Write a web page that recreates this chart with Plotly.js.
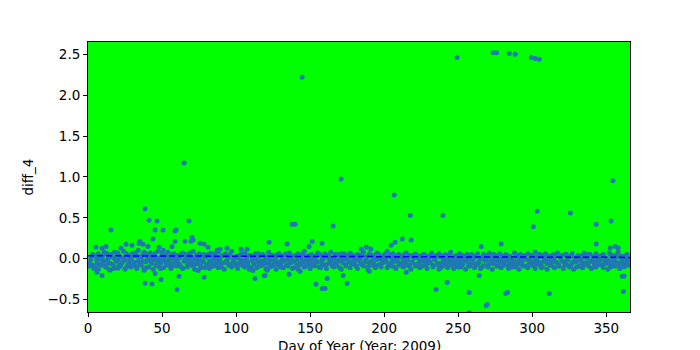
<!DOCTYPE html>
<html>
<head>
<meta charset="utf-8">
<script src="https://cdn.plot.ly/plotly-3.0.1.min.js"></script>
<style>html,body{margin:0;padding:0;background:#fff;}#chart{width:700px;height:350px;}</style>
</head>
<body>
<div id="chart"></div>
<script>
// Day-of-year band values (two readings per day, days 1..365)
const bandA = [
-.05,.02,-.08,.04,-.11,-.02,.06,-.07,.01,-.04,.08,-.09,-.01,.03,-.06,.05,-.12,.00,-.03,.07,
-.08,.02,-.05,.09,-.02,-.10,.04,-.06,.01,.06,-.04,-.09,.03,.10,-.07,.02,-.03,.08,-.11,.05,
-.02,.07,-.06,.00,.04,-.08,.09,-.03,-.12,.05,-.01,.03,-.07,.08,-.04,.01,-.09,.06,-.02,.04,
-.06,.02,-.10,.07,-.03,.05,-.08,.00,.03,-.05,.09,-.07,.01,-.02,.06,-.11,.04,-.04,.02,-.08,
.05,-.03,.07,-.09,.00,.03,-.06,.08,-.01,-.10,.04,-.05,.06,-.02,.02,-.07,.09,-.04,.01,-.08,
.03,-.06,.05,-.02,-.09,.07,.00,-.04,.04,-.11,.02,-.07,.06,-.01,-.05,.03,-.08,.05,-.03,.01,
-.06,.08,-.02,-.09,.04,-.04,.02,-.07,.06,-.10,.01,-.03,.05,-.08,.00,.07,-.05,.03,-.11,.04,
-.02,.06,-.07,.01,-.04,.09,-.09,.03,-.01,-.06,.05,-.08,.02,-.03,.07,-.10,.04,-.05,.00,.06,
-.07,.03,-.02,.08,-.09,.01,-.05,.05,-.03,-.11,.06,-.01,.02,-.08,.04,-.04,.07,-.06,.00,.03,
-.09,.05,-.02,.01,-.07,.08,-.04,.02,-.10,.06,-.03,.04,-.06,.00,.07,-.08,.03,-.01,-.05,.05,
-.02,.09,-.07,.02,-.04,.06,-.10,.01,-.03,.05,-.08,.03,.00,-.06,.07,-.02,-.09,.04,-.05,.02,
.06,-.07,.01,-.03,.04,-.09,.05,-.01,-.06,.03,-.04,.07,-.08,.00,.02,-.05,.06,-.11,.03,-.02,
.05,-.06,.01,-.03,.08,-.08,.02,-.04,.04,-.10,.06,-.01,-.07,.03,-.02,.05,-.09,.00,.04,-.05,
.02,-.07,.06,-.03,.01,-.10,.05,-.02,.03,-.08,.07,-.04,.00,-.06,.04,-.01,-.09,.06,-.03,.02,
-.06,.05,-.02,-.08,.03,.00,-.05,.07,-.10,.02,-.03,.05,-.07,.01,.04,-.09,.06,-.02,-.04,.03,
-.07,.08,-.01,-.05,.02,-.11,.04,-.03,.06,-.06,.00,.03,-.08,.05,-.02,-.04,.07,-.09,.01,.04,
-.03,-.07,.05,-.01,.02,-.08,.06,-.04,.00,-.10,.04,-.02,.03,-.06,.07,-.05,.01,-.09,.05,-.03,
.02,-.07,.06,-.01,-.04,.03,-.08,.05,-.02,.00,-.06,.07,-.10,.02,-.03,.04,-.05,.08,-.07,.01,
-.04,.03,-.08,.05,-.02
];
const bandB = [
-.09,-.01,.05,-.12,.03,-.06,-.13,.00,-.08,.04,-.03,-.10,.06,-.05,-.14,.02,-.07,.08,-.11,-.02,
.04,-.09,-.04,.01,-.13,.06,-.07,-.01,-.10,.03,-.06,.07,-.12,-.03,.02,-.08,.05,-.14,-.04,.00,
-.10,.03,-.05,-.13,.06,-.02,-.09,.01,-.06,.08,-.11,-.03,.04,-.08,-.01,-.12,.05,-.05,.02,-.09,
.00,-.07,.06,-.12,-.02,.03,-.10,-.05,.07,-.08,-.01,-.13,.04,-.06,.01,-.09,-.03,.05,-.11,.02,
-.07,-.12,.03,-.04,-.09,.06,-.02,-.11,.01,-.06,.04,-.13,-.03,.02,-.08,.05,-.10,-.01,-.05,.03,
-.12,.00,-.07,.05,-.04,-.10,.02,-.08,-.13,.04,-.02,-.06,.01,-.11,.06,-.09,-.03,-.07,.03,-.12,
.02,-.05,-.10,.04,-.08,-.01,-.13,.05,-.04,-.07,.03,-.11,-.02,.06,-.09,-.05,.01,-.12,-.03,.04,
-.08,-.13,.02,-.05,.05,-.10,-.02,-.07,.04,-.12,.00,-.06,-.09,.03,-.04,.06,-.11,-.01,-.08,.02,
-.12,.04,-.06,-.03,.01,-.10,.05,-.08,-.02,.03,-.13,-.05,.06,-.09,-.01,.02,-.11,-.04,.04,-.07,
-.02,-.12,.03,-.06,.05,-.09,-.03,.01,-.13,-.05,.04,-.08,.02,-.11,-.01,.06,-.07,-.10,.00,-.04,
.03,-.11,-.06,.05,-.09,.01,-.03,-.12,.04,-.07,.02,-.05,-.10,.06,-.02,-.08,.03,-.13,-.04,.01,
-.09,.04,-.06,-.11,.02,-.03,.05,-.08,-.12,.00,-.05,.03,-.10,-.01,.04,-.07,-.13,.02,-.06,-.09,
.01,-.04,-.11,.05,-.07,-.02,-.12,.03,-.08,.00,-.05,-.10,.04,-.03,-.13,.02,-.06,-.09,.05,-.01,
-.11,.03,-.07,-.04,-.12,.01,-.08,.04,-.02,-.10,.02,-.06,-.13,.05,-.03,-.09,.00,-.05,-.11,.03,
-.08,-.02,.04,-.12,-.06,.01,-.10,-.03,.05,-.07,-.13,.02,-.04,-.09,.03,-.01,-.11,-.06,.04,-.08,
-.03,-.12,.02,-.07,.05,-.05,-.10,.01,-.02,-.13,.03,-.08,-.04,.00,-.11,.04,-.06,-.09,.02,-.03,
-.12,.05,-.07,-.02,-.10,.03,-.05,-.13,.01,-.04,.04,-.09,-.01,-.11,.02,-.06,-.08,.05,-.03,-.12,
.00,-.05,-.10,.03,-.07,-.02,.04,-.11,-.06,.01,-.13,-.03,.05,-.08,-.01,-.09,.02,-.05,-.12,.03,
-.06,-.10,.01,-.04,-.08
];
const bandDays = bandA.map((_, i) => i + 1);

// Scattered readings away from the band
const extraDays = [
249.3,273.6,275.9,284.5,288.5,299.3,302,304.7,144.6,64.9,170.9,354.5,206.8,38.5,303.4,325.7,217.6,239.7,41.2,46.6,
68.2,353.2,137.8,139.9,343.2,165.5,300.7,15.5,45.3,50.7,58.8,59.5,70.3,71,43.9,58.8,56.8,212.2,218.2,122.3,
134.5,151.4,158.1,149.3,204.7,207.4,184.5,188,191,343.2,279,265.5,352.7,356,358,
5.4,9.5,12.2,22.3,25.7,29.7,35.1,34.5,37.2,40.5,48,50.9,65.5,69.6,75.7,78.4,81.1,87.2,89.2,93.9,103.4,107.4,
38.5,43.2,60.1,61.5,45.3,49.3,6.1,9.5,78.4,112.8,14.2,20.3,37.8,74.4,111.5,118.9,119.6,121,135.8,143.2,
154,158.1,160.1,161.5,172.3,175,189.9,214.9,224,235.1,242.6,257.4,264.2,268.9,269.6,257.4,282,283.4,311.5,360.8,
362,361.5
];
const extraVals = [
2.46,2.52,2.52,2.51,2.50,2.46,2.45,2.44,2.22,1.17,0.975,0.955,0.78,0.61,0.58,0.56,0.53,0.53,0.47,0.46,
0.46,0.46,0.42,0.42,0.42,0.40,0.39,0.35,0.35,0.35,0.34,0.35,0.26,0.23,0.24,0.21,0.15,0.24,0.23,0.20,
0.18,0.21,0.19,0.15,0.165,0.20,0.12,0.14,0.12,0.18,0.18,0.15,0.13,0.15,0.13,
0.14,0.127,0.15,0.127,0.176,0.164,0.213,0.19,0.176,0.15,0.14,0.103,0.213,0.213,0.19,0.176,0.14,0.103,0.115,0.127,0.115,0.115,
-0.30,-0.31,-0.376,-0.216,-0.18,-0.253,-0.167,-0.204,-0.228,-0.241,-0.13,-0.118,-0.13,-0.143,-0.143,-0.204,-0.204,-0.142,-0.19,-0.155,
-0.314,-0.364,-0.364,-0.241,-0.204,-0.302,-0.155,-0.167,-0.106,-0.376,-0.29,-0.413,-0.204,-0.573,-0.56,-0.66,-0.425,-0.413,-0.425,-0.216,
-0.216,-0.40
];

// Trend line end points
const trendDays = [0, 366];
const trendVals = [0.036, 0.016];

const xTicks = [0, 50, 100, 150, 200, 250, 300, 350];
const yTicks = [-0.5, 0.0, 0.5, 1.0, 1.5, 2.0, 2.5];
const xTitle = 'Day of Year (Year: 2009)';
const yTitle = 'diff_4';

const allDays = bandDays.concat(bandDays, extraDays);
const allVals = bandA.concat(bandB, extraVals);

const traces = [
  {
    type: 'scatter', mode: 'markers', x: allDays, y: allVals,
    marker: {color: '#1f77b4', size: 5, line: {width: 0}},
    hoverinfo: 'skip', showlegend: false
  },
  {
    type: 'scatter', mode: 'lines', x: trendDays, y: trendVals,
    line: {color: '#0000ff', width: 1.5, dash: '6px,3px'},
    hoverinfo: 'skip', showlegend: false
  }
];

const axisCommon = {
  showgrid: false, zeroline: false, showline: true, mirror: true,
  linecolor: '#000', linewidth: 1, ticks: 'outside', ticklen: 4, tickwidth: 1,
  tickcolor: '#000', tickfont: {family: 'DejaVu Sans', size: 13.5, color: '#000'}
};

const layout = {
  width: 700, height: 350,
  margin: {l: 88, r: 70, t: 42, b: 38, pad: 0},
  paper_bgcolor: '#ffffff', plot_bgcolor: '#00ff00',
  font: {family: 'DejaVu Sans', size: 13.5, color: '#000'},
  xaxis: Object.assign({}, axisCommon, {
    range: [0, 366], tickmode: 'array', tickvals: xTicks,
    ticktext: xTicks.map(String)
  }),
  yaxis: Object.assign({}, axisCommon, {
    range: [-0.652, 2.651], tickmode: 'array', tickvals: yTicks,
    ticktext: yTicks.map(v => (v < 0 ? '\u2212' : '') + Math.abs(v).toFixed(1)),
    title: {text: yTitle, standoff: 10, font: {family: 'DejaVu Sans', size: 13.5}}
  }),
  annotations: [{
    text: xTitle, xref: 'paper', yref: 'paper', x: 0.5, y: 0,
    xanchor: 'center', yanchor: 'top', yshift: -24, showarrow: false,
    font: {family: 'DejaVu Sans', size: 13.5, color: '#000'}
  }]
};

Plotly.newPlot('chart', traces, layout, {staticPlot: true, displayModeBar: false});
</script>
</body>
</html>
